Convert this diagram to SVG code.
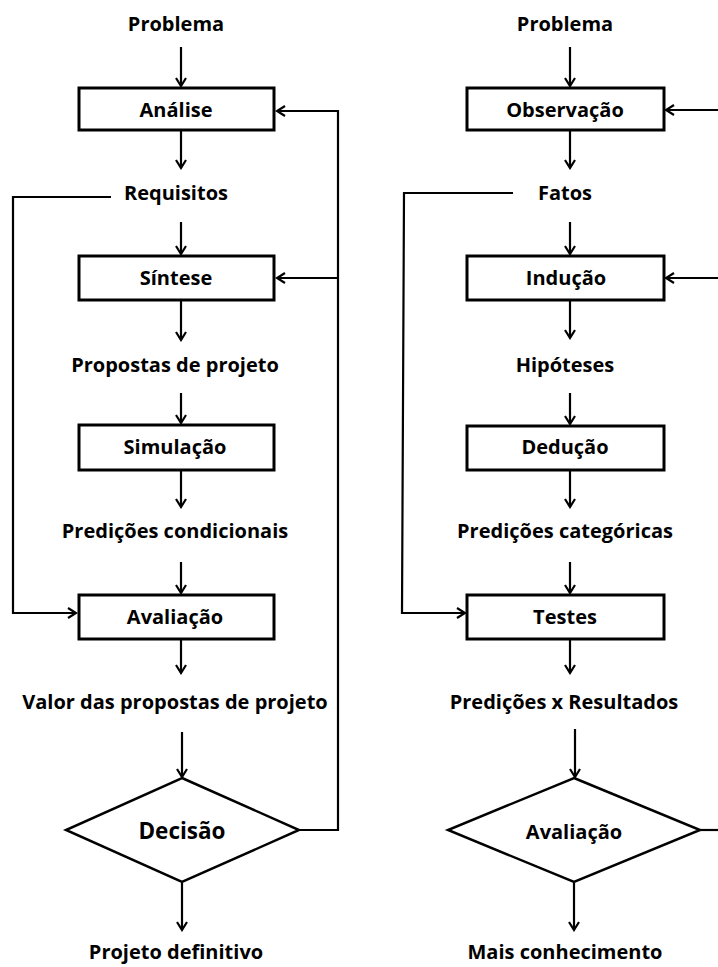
<svg xmlns="http://www.w3.org/2000/svg" width="718" height="967" viewBox="0 0 718 967">
  <style>
    .lbl { font-family: "Open Sans", "Liberation Sans", sans-serif; font-weight: 700; font-size: 20px; fill: #000; text-anchor: middle; }
    .big { font-size: 22.5px; }
    .box { fill: #fff; stroke: #000; stroke-width: 3; }
    .dia { fill: #fff; stroke: #000; stroke-width: 2.5; }
    .wire { fill: none; stroke: #000; stroke-width: 2.2; }
  </style>
  <defs>
    <marker id="arr" viewBox="0 0 12 12" refX="10" refY="6" markerWidth="12" markerHeight="12" markerUnits="userSpaceOnUse" orient="auto">
      <path d="M2,1 L10,6 L2,11" fill="none" stroke="#000" stroke-width="2.2"/>
    </marker>
  </defs>
  <rect width="718" height="967" fill="#fff"/>

  <!-- connectors -->
  <g id="connectors" class="wire">
    <!-- design process column -->
    <line x1="181" y1="47" x2="181" y2="86" marker-end="url(#arr)"/>
    <line x1="181" y1="131" x2="181" y2="168" marker-end="url(#arr)"/>
    <line x1="181" y1="222" x2="181" y2="254" marker-end="url(#arr)"/>
    <line x1="181" y1="301" x2="181" y2="340" marker-end="url(#arr)"/>
    <line x1="181" y1="393" x2="181" y2="423" marker-end="url(#arr)"/>
    <line x1="181" y1="471" x2="181" y2="507" marker-end="url(#arr)"/>
    <line x1="181" y1="562" x2="181" y2="593" marker-end="url(#arr)"/>
    <line x1="181" y1="640" x2="181" y2="673" marker-end="url(#arr)"/>
    <line x1="182" y1="732" x2="182" y2="777" marker-end="url(#arr)"/>
    <line x1="182" y1="883" x2="182" y2="930" marker-end="url(#arr)"/>
    <polyline points="299,830 338,830 338,111 277,111" marker-end="url(#arr)"/>
    <line x1="338" y1="278" x2="277" y2="278" marker-end="url(#arr)"/>
    <polyline points="111,197 13,197 13,613 76,613" marker-end="url(#arr)"/>

    <!-- scientific method column -->
    <line x1="570" y1="47" x2="570" y2="86" marker-end="url(#arr)"/>
    <line x1="570" y1="131" x2="570" y2="168" marker-end="url(#arr)"/>
    <line x1="570" y1="222" x2="570" y2="254" marker-end="url(#arr)"/>
    <line x1="570" y1="301" x2="570" y2="338" marker-end="url(#arr)"/>
    <line x1="570" y1="393" x2="570" y2="424" marker-end="url(#arr)"/>
    <line x1="570" y1="471" x2="570" y2="507" marker-end="url(#arr)"/>
    <line x1="570" y1="562" x2="570" y2="593" marker-end="url(#arr)"/>
    <line x1="570" y1="640" x2="570" y2="673" marker-end="url(#arr)"/>
    <line x1="575" y1="729" x2="575" y2="777" marker-end="url(#arr)"/>
    <line x1="574" y1="883" x2="574" y2="930" marker-end="url(#arr)"/>
    <line x1="700" y1="830" x2="718" y2="830"/>
    <line x1="718" y1="110" x2="666" y2="110" marker-end="url(#arr)"/>
    <line x1="718" y1="278" x2="666" y2="278" marker-end="url(#arr)"/>
    <polyline points="513,193 404,193 402,613 465,613" marker-end="url(#arr)"/>
  </g>

  <!-- design process -->
  <g id="problema-a"><text class="lbl" x="176" y="31">Problema</text></g>
  <g id="analise"><rect class="box" x="79" y="88" width="195" height="42"/><text class="lbl" x="176" y="117">Análise</text></g>
  <g id="requisitos"><text class="lbl" x="176" y="200">Requisitos</text></g>
  <g id="sintese"><rect class="box" x="79" y="256" width="195" height="44"/><text class="lbl" x="176" y="285">Síntese</text></g>
  <g id="propostas"><text class="lbl" x="175" y="372">Propostas de projeto</text></g>
  <g id="simulacao"><rect class="box" x="79" y="425" width="195" height="45"/><text class="lbl" x="175" y="454">Simulação</text></g>
  <g id="predicoes-cond"><text class="lbl" x="175" y="538">Predições condicionais</text></g>
  <g id="avaliacao-a"><rect class="box" x="79" y="595" width="195" height="44"/><text class="lbl" x="175" y="624">Avaliação</text></g>
  <g id="valor"><text class="lbl" x="175" y="709">Valor das propostas de projeto</text></g>
  <g id="decisao"><polygon class="dia" points="182,778 299,830 182,882 66,830"/><text class="lbl big" x="182" y="839">Decisão</text></g>
  <g id="projeto"><text class="lbl" x="176" y="959">Projeto definitivo</text></g>

  <!-- scientific method -->
  <g id="problema-b"><text class="lbl" x="565" y="31">Problema</text></g>
  <g id="observacao"><rect class="box" x="467" y="88" width="197" height="42"/><text class="lbl" x="565" y="117">Observação</text></g>
  <g id="fatos"><text class="lbl" x="565" y="200">Fatos</text></g>
  <g id="inducao"><rect class="box" x="467" y="256" width="197" height="44"/><text class="lbl" x="566" y="285">Indução</text></g>
  <g id="hipoteses"><text class="lbl" x="565" y="372">Hipóteses</text></g>
  <g id="deducao"><rect class="box" x="467" y="426" width="197" height="44"/><text class="lbl" x="565" y="454">Dedução</text></g>
  <g id="predicoes-cat"><text class="lbl" x="565" y="538">Predições categóricas</text></g>
  <g id="testes"><rect class="box" x="467" y="595" width="197" height="44"/><text class="lbl" x="565" y="624">Testes</text></g>
  <g id="predicoes-res"><text class="lbl" x="564" y="709">Predições x Resultados</text></g>
  <g id="avaliacao-b"><polygon class="dia" points="574,778 700,830 574,882 448,830"/><text class="lbl" x="574" y="839">Avaliação</text></g>
  <g id="conhecimento"><text class="lbl" x="565" y="959">Mais conhecimento</text></g>
</svg>
